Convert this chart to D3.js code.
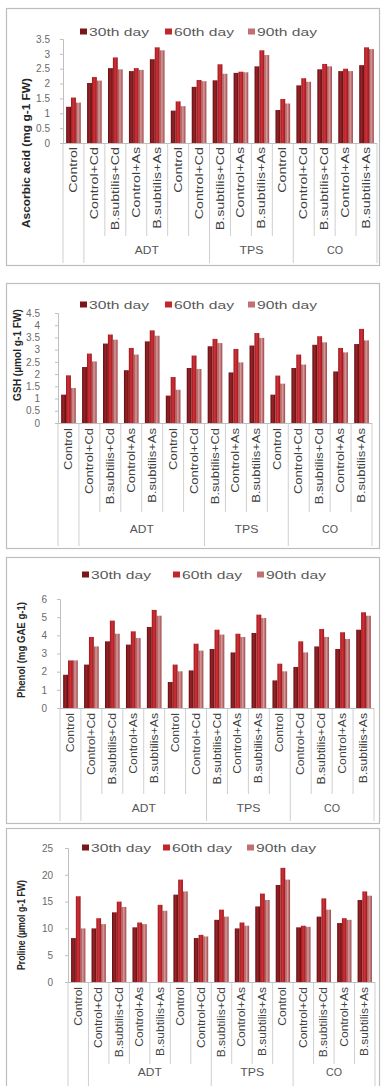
<!DOCTYPE html>
<html><head><meta charset="utf-8">
<script src="https://cdn.jsdelivr.net/npm/d3@7"></script>
<style>body{margin:0;background:#fff}svg{display:block}</style>
</head><body>
<svg id="c" width="385" height="1086"></svg>
<script>
const categories = ["Control","Control+Cd","B.subtilis+Cd","Control+As","B.subtilis+As","Control","Control+Cd","B.subtilis+Cd","Control+As","B.subtilis+As","Control","Control+Cd","B.subtilis+Cd","Control+As","B.subtilis+As"];
const groupNames = ["", "ADT", "TPS", "CO"];
const groupSizes = [1, 6, 4, 4];
const seriesNames = ["30th day", "60th day", "90th day"];

const ascorbic30 = [1.22, 2.02, 2.52, 2.42, 2.82, 1.09, 1.89, 2.11, 2.36, 2.58, 1.11, 1.94, 2.48, 2.42, 2.62];
const ascorbic60 = [1.53, 2.22, 2.88, 2.52, 3.22, 1.40, 2.12, 2.65, 2.40, 3.12, 1.48, 2.18, 2.66, 2.50, 3.22];
const ascorbic90 = [1.36, 2.10, 2.48, 2.46, 3.12, 1.24, 2.08, 2.33, 2.38, 2.96, 1.33, 2.06, 2.58, 2.42, 3.16];
const ascorbicTicks = ["0", "0.5", "1", "1.5", "2", "2.5", "3", "3.5"];

const gsh30 = [1.16, 2.29, 3.25, 2.16, 3.34, 1.12, 2.25, 3.14, 2.07, 3.17, 1.16, 2.25, 3.20, 2.11, 3.23];
const gsh60 = [1.95, 2.84, 3.62, 3.07, 3.79, 1.88, 2.76, 3.44, 3.03, 3.68, 1.94, 2.80, 3.55, 3.07, 3.85];
const gsh90 = [1.43, 2.52, 3.41, 2.80, 3.57, 1.36, 2.21, 3.27, 2.48, 3.48, 1.61, 2.39, 3.30, 2.89, 3.38];
const gshTicks = ["0", "0.5", "1", "1.5", "2", "2.5", "3", "3.5", "4", "4.5"];

const phenol30 = [1.83, 2.39, 3.67, 3.49, 4.46, 1.43, 2.07, 3.25, 3.06, 4.13, 1.52, 2.26, 3.39, 3.25, 4.31];
const phenol60 = [2.62, 3.91, 4.81, 4.22, 5.40, 2.39, 3.54, 4.31, 4.09, 5.14, 2.44, 3.67, 4.35, 4.17, 5.27];
const phenol90 = [2.62, 3.39, 4.09, 3.85, 5.08, 2.02, 3.16, 4.04, 3.91, 4.95, 2.02, 3.06, 3.91, 3.80, 5.08];
const phenolTicks = ["0", "1", "2", "3", "4", "5", "6"];

const proline30 = [8.2, 10.0, 13.0, 10.2, 0, 16.3, 8.2, 11.6, 10.0, 14.1, 18.1, 10.2, 12.2, 11.0, 15.3];
const proline60 = [16.0, 11.9, 15.0, 11.1, 14.4, 19.1, 8.8, 13.5, 11.1, 16.5, 21.3, 10.5, 15.6, 11.9, 16.9];
const proline90 = [10.0, 10.8, 14.0, 10.8, 13.3, 16.9, 8.5, 12.2, 10.5, 15.3, 19.1, 10.3, 13.5, 11.6, 16.1];
const prolineTicks = ["0", "5", "10", "15", "20", "25"];

const titles = ["Ascorbic acid (mg g-1 FW)", "GSH (µmol g-1 FW)", "Phenol (mg GAE g-1)", "Proline (µmol g-1 FW)"];

const panels = [
  {series:[ascorbic30, ascorbic60, ascorbic90], ticks:ascorbicTicks, title:titles[0],
   top:8, bottom:265, xL:63, xR:377, y0:143, yT:39, legY:32, legX:[80,165,248], tickR:50,
   tX:26, tY:153, tLen:150, labTop:147, labBot:236, labF:1.42, grpY:254},
  {series:[gsh30, gsh60, gsh90], ticks:gshTicks, title:titles[1],
   top:283, bottom:548, xL:58, xR:372, y0:423, yT:313, legY:305, legX:[80,165,248], tickR:40,
   tX:17, tY:355, tLen:92, labTop:428, labBot:512, labF:1.3, grpY:533},
  {series:[phenol30, phenol60, phenol90], ticks:phenolTicks, title:titles[2],
   top:557, bottom:823, xL:60, xR:374, y0:708, yT:599, legY:575, legX:[82,173,257], tickR:47,
   tX:21, tY:650, tLen:96, labTop:713, labBot:794, labF:1.22, grpY:812},
  {series:[proline30, proline60, proline90], ticks:prolineTicks, title:titles[3],
   top:828, bottom:1095, xL:68, xR:375, y0:982, yT:848, legY:848, legX:[82,163,247], tickR:53,
   tX:21, tY:925, tLen:90, labTop:987, labBot:1064, labF:1.2, grpY:1076}
];

const svg = d3.select("#c");
const defs = svg.append("defs");
const grads = [
  ["g0", "#5e0f12", "#9a2327", "#5e0f12"],
  ["g1", "#9a171d", "#d03237", "#9a171d"],
  ["g2", "#9c4648", "#d99a9a", "#9c4648"]
];
grads.forEach(g => {
  const lg = defs.append("linearGradient").attr("id", g[0]).attr("x1", 0).attr("x2", 1).attr("y1", 0).attr("y2", 0);
  lg.append("stop").attr("offset", "0%").attr("stop-color", g[1]);
  lg.append("stop").attr("offset", "45%").attr("stop-color", g[2]);
  lg.append("stop").attr("offset", "100%").attr("stop-color", g[3]);
});
const legendFill = ["#7a1518", "#c0262c", "#c07070"];
const FONT = "'Liberation Sans', Arial, sans-serif";

panels.forEach(p => {
  const g = svg.append("g");
  // frame
  g.append("rect").attr("x", 6.5).attr("y", p.top + 0.5).attr("width", 373).attr("height", p.bottom - p.top)
    .attr("fill", "#fff").attr("stroke", "#bdbdbd").attr("stroke-width", 1.2);

  const maxV = +p.ticks[p.ticks.length - 1];
  const y = d3.scaleLinear().domain([0, maxV]).range([p.y0, p.yT]);
  const x = d3.scaleBand().domain(d3.range(categories.length)).range([p.xL, p.xR]).paddingInner(0.3).paddingOuter(0.15);
  const xs = d3.scaleBand().domain(d3.range(3)).range([0, x.bandwidth()]).padding(0);
  const step = (p.xR - p.xL) / categories.length;

  // category separators
  const bounds = [0];
  groupSizes.reduce((a, s) => { bounds.push(a + s); return a + s; }, 0);
  d3.range(categories.length + 1).forEach(i => {
    const isG = bounds.includes(i);
    g.append("line").attr("x1", p.xL + i * step).attr("x2", p.xL + i * step)
      .attr("y1", p.y0).attr("y2", isG ? p.bottom - 2 : p.labBot)
      .attr("stroke", "#cfcfcf").attr("stroke-width", 1);
  });

  // bars
  p.series.forEach((s, si) => {
    g.append("g").selectAll("rect").data(s).join("rect")
      .attr("x", (d, i) => x(i) + xs(si))
      .attr("width", xs.bandwidth())
      .attr("y", d => y(d))
      .attr("height", d => p.y0 - y(d))
      .attr("fill", `url(#g${si})`);
  });

  // axes
  const ya = d3.axisLeft(y).tickValues(p.ticks.map(Number)).tickFormat((d, i) => p.ticks[i]).tickSize(3).tickPadding(p.xL - p.tickR - 3);
  const ag = g.append("g").attr("transform", `translate(${p.xL},0)`).call(ya);
  ag.select(".domain").attr("stroke", "#bfbfbf");
  ag.selectAll(".tick line").attr("stroke", "#bfbfbf");
  ag.selectAll(".tick text").attr("fill", "#6a6a6a").style("font-family", FONT).style("font-size", "10px");
  g.append("line").attr("x1", p.xL).attr("x2", p.xR).attr("y1", p.y0 + 0.5).attr("y2", p.y0 + 0.5).attr("stroke", "#bfbfbf");

  // category labels
  categories.forEach((c, i) => {
    const t = g.append("text").attr("transform", `translate(${x(i) + x.bandwidth() / 2 + 3.5},${p.labTop}) rotate(-90)`)
      .attr("text-anchor", "end").attr("fill", "#404040")
      .style("font-family", FONT).style("font-size", "10px").text(c);
    const L = t.node().getComputedTextLength();
    t.attr("textLength", L * p.labF).attr("lengthAdjust", "spacingAndGlyphs");
  });

  // group labels
  let acc = 0;
  groupNames.forEach((gn, gi) => {
    const cx = p.xL + (acc + groupSizes[gi] / 2) * step;
    acc += groupSizes[gi];
    if (gn) g.append("text").attr("x", cx).attr("y", p.grpY).attr("text-anchor", "middle")
      .attr("fill", "#555").style("font-family", FONT).style("font-size", "10.5px")
      .attr("textLength", gn.length * 8).attr("lengthAdjust", "spacingAndGlyphs").text(gn);
  });

  // title
  g.append("text").attr("transform", `translate(${p.tX + 4},${p.tY}) rotate(-90)`)
    .attr("text-anchor", "middle").attr("fill", "#262626").style("font-family", FONT)
    .style("font-size", "10px").style("font-weight", "bold")
    .attr("textLength", p.tLen).attr("lengthAdjust", "spacingAndGlyphs").text(p.title);

  // legend
  seriesNames.forEach((sn, si) => {
    g.append("rect").attr("x", p.legX[si]).attr("y", p.legY - 3.5).attr("width", 7).attr("height", 6)
      .attr("fill", legendFill[si]);
    g.append("text").attr("x", p.legX[si] + 9).attr("y", p.legY + 3.5).attr("fill", "#595959")
      .style("font-family", FONT).style("font-size", "10.5px")
      .attr("textLength", 60).attr("lengthAdjust", "spacingAndGlyphs").text(sn);
  });
});
</script>
</body></html>
